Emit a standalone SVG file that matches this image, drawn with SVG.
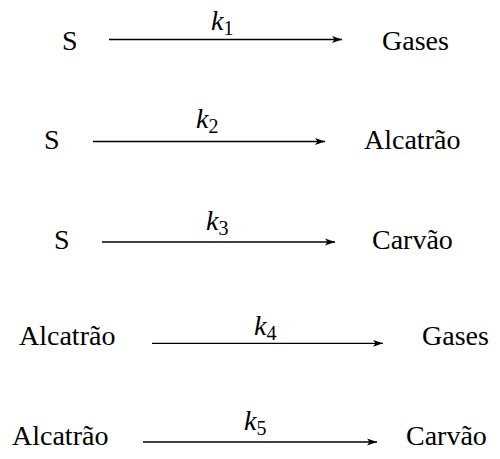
<svg xmlns="http://www.w3.org/2000/svg" width="500" height="459" viewBox="0 0 500 459">
<style>
text{font-family:"Liberation Serif","Times New Roman",serif;font-size:28px;fill:#000}
.k{font-style:italic}
.sub{font-style:normal;font-size:20px}
.arr{stroke:#000;stroke-width:1.3;fill:none;marker-end:url(#ah)}
</style>
<defs>
<marker id="ah" markerUnits="userSpaceOnUse" markerWidth="11" markerHeight="8" refX="10" refY="4" orient="auto">
<path d="M0,0.6 L10,4 L0,7.4 L2.5,4 z" fill="#000"/>
</marker>
</defs>
<g id="connectors">
<path class="arr" d="M109,39.5 H342"/>
<path class="arr" d="M93,141.5 H325"/>
<path class="arr" d="M102,242 H335"/>
<path class="arr" d="M152,343.3 H383"/>
<path class="arr" d="M143,442 H377"/>
</g>
<g id="r1">
<text x="62" y="50">S</text>
<text class="k" x="211" y="30">k<tspan class="sub" dy="5">1</tspan></text>
<text x="382" y="50">Gases</text>
</g>
<g id="r2">
<text x="44" y="149">S</text>
<text class="k" x="196" y="128">k<tspan class="sub" dy="5">2</tspan></text>
<text x="364" y="149">Alcatrão</text>
</g>
<g id="r3">
<text x="54" y="249">S</text>
<text class="k" x="206" y="230">k<tspan class="sub" dy="5">3</tspan></text>
<text x="372" y="249">Carvão</text>
</g>
<g id="r4">
<text x="19" y="345">Alcatrão</text>
<text class="k" x="254" y="335">k<tspan class="sub" dy="5">4</tspan></text>
<text x="422" y="345">Gases</text>
</g>
<g id="r5">
<text x="12" y="445">Alcatrão</text>
<text class="k" x="244" y="430">k<tspan class="sub" dy="5">5</tspan></text>
<text x="406" y="445">Carvão</text>
</g>
</svg>
